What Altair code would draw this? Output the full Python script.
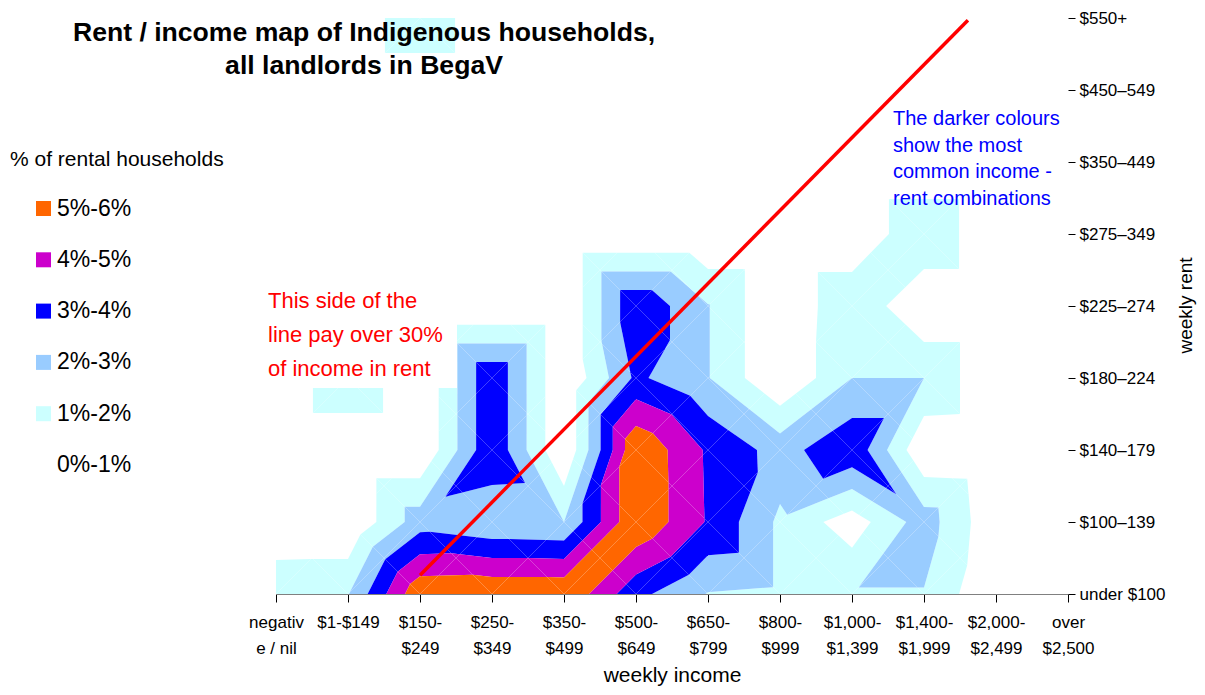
import json
import altair as alt
import pandas as pd

# ---------------- data ----------------
income_labels = ["negativ\ne / nil", "$1-$149", "$150-\n$249", "$250-\n$349", "$350-\n$499",
                 "$500-\n$649", "$650-\n$799", "$800-\n$999", "$1,000-\n$1,399",
                 "$1,400-\n$1,999", "$2,000-\n$2,499", "over\n$2,500"]
rent_labels = ["under $100", "$100–139", "$140–179", "$180–224", "$225–274",
               "$275–349", "$350–449", "$450–549", "$550+"]

# % of rental households for each income band, from "under $100" rent up to "$550+"
pct_negative_nil = [1.9, 0, 0, 0, 0, 0, 0, 0, 0]
pct_1_149 = [1.95, 0, 0, 1.95, 0, 0, 0, 0, 0]
pct_150_249 = [5.8, 2.54, 0, 0, 0, 0, 0, 0, 1.95]
pct_250_349 = [5.9, 2.1, 3.85, 3.85, 0, 0, 0, 0, 0]
pct_350_499 = [5.9, 2.0, 0, 0, 0, 0, 0, 0, 0]
pct_500_649 = [3.3, 5.9, 5.9, 3.2, 3.85, 0, 0, 0, 0]
pct_650_799 = [1.95, 3.9, 3.85, 2.05, 2.05, 0, 0, 0, 0]
pct_800_999 = [1.8, 1.8, 2.6, 0, 0, 0, 0, 0, 0]
pct_1000_1399 = [1.95, 0.47, 3.8, 2.0, 1.9, 0, 0, 0, 0]
pct_1400_1999 = [1.95, 2.5, 0.1, 2.0, 0, 1.95, 0, 0, 0]
pct_2000_2499 = [0, 0.2, 0, 0, 0, 0, 0, 0, 0]
pct_over_2500 = [0, 0, 0, 0, 0, 0, 0, 0, 0]

band_edges = [0, 1, 2, 3, 4, 5, 6]
band_labels = ["0%-1%", "1%-2%", "2%-3%", "3%-4%", "4%-5%", "5%-6%"]
band_colors = ["#FFFFFF", "#CCFFFF", "#99CCFF", "#0000FF", "#CC00CC", "#FF6600"]

# 30%-of-income reference line (income index, rent index)
line_x = [2.0, 9.61]
line_y = [0.26, 7.97]

grid = [pct_negative_nil, pct_1_149, pct_150_249, pct_250_349, pct_350_499, pct_500_649,
        pct_650_799, pct_800_999, pct_1000_1399, pct_1400_1999, pct_2000_2499, pct_over_2500]


# ---------------- filled contour bands (cell split on the diagonal with the larger sum) ----------------
def clip(poly, level, keep_above):
    out = []
    n = len(poly)
    for k in range(n):
        p, q = poly[k], poly[(k + 1) % n]
        pin = p[2] >= level if keep_above else p[2] <= level
        qin = q[2] >= level if keep_above else q[2] <= level
        if pin:
            out.append(p)
        if pin != qin:
            t = (level - p[2]) / (q[2] - p[2])
            out.append((p[0] + t * (q[0] - p[0]), p[1] + t * (q[1] - p[1]), level))
    return out


def area(poly):
    s = 0.0
    for k in range(len(poly)):
        x1, y1, _ = poly[k]
        x2, y2, _ = poly[(k + 1) % len(poly)]
        s += x1 * y2 - x2 * y1
    return abs(s) / 2


rows = []
pid = 0
nx, ny = len(grid), len(grid[0])
for i in range(nx - 1):
    for j in range(ny - 1):
        bl = (i, j, grid[i][j])
        br = (i + 1, j, grid[i + 1][j])
        tl = (i, j + 1, grid[i][j + 1])
        tr = (i + 1, j + 1, grid[i + 1][j + 1])
        c = (i + 0.5, j + 0.5, max(bl[2] + tr[2], tl[2] + br[2]) / 2)
        for tri in ((bl, br, c), (br, tr, c), (tr, tl, c), (tl, bl, c)):
            for b in range(1, len(band_labels)):
                poly = clip(clip(list(tri), band_edges[b], True), band_edges[b + 1], False)
                if len(poly) >= 3 and area(poly) > 1e-7:
                    for k, (x, y, _) in enumerate(poly):
                        rows.append({"x": x, "y": y, "k": k, "pid": pid, "band": band_labels[b]})
                    pid += 1
poly_df = pd.DataFrame(rows)

FONT = "Liberation Sans"

x_enc = alt.X("x:Q",
              scale=alt.Scale(domain=[0, len(income_labels) - 1], nice=False, zero=False),
              axis=alt.Axis(values=list(range(len(income_labels))),
                            labelExpr=json.dumps([l.split("\n") for l in income_labels], ensure_ascii=False) + "[datum.value]",
                            title="weekly income", titleFontSize=21, titleFontWeight="normal",
                            titleColor="black", titleFont=FONT, titleY=81, titleBaseline="middle",
                            labelFont=FONT, labelFontSize=17, labelColor="black", labelAngle=0,
                            labelPadding=12, labelLineHeight=26, labelOverlap=False,
                            labelFlush=False, labelAlign="center",
                            tickSize=8, tickColor="black", domainColor="#808080", grid=False))
y_enc = alt.Y("y:Q",
              scale=alt.Scale(domain=[0, len(rent_labels) - 1], nice=False, zero=False),
              axis=alt.Axis(orient="right", values=list(range(len(rent_labels))),
                            labelExpr=json.dumps(rent_labels, ensure_ascii=False) + "[datum.value]",
                            title="weekly rent", titleFontSize=19, titleFontWeight="normal",
                            titleColor="black", titleFont=FONT, titleAngle=270, titleX=117, titleY=287,
                            titleBaseline="middle", titleAlign="center",
                            labelFont=FONT, labelFontSize=17, labelColor="black", labelPadding=4,
                            labelOverlap=False, labelFlush=False,
                            tickSize=7, tickColor="black", domain=False, grid=False))

legend_domain = band_labels[::-1]
legend_range = band_colors[::-1]

bands = alt.Chart(poly_df).mark_line(filled=True, opacity=1, strokeWidth=0).encode(
    x=x_enc, y=y_enc,
    color=alt.Color("band:N", scale=alt.Scale(domain=legend_domain, range=legend_range),
                    legend=alt.Legend(title=None, orient="none", legendX=-244, legendY=179,
                                      symbolType="square", symbolSize=225, symbolStrokeWidth=0,
                                      symbolOpacity=1,
                                      labelFont=FONT, labelFontSize=23, labelColor="black",
                                      labelOffset=2, rowPadding=27.3, labelLimit=200)),
    detail="pid:N",
    order="k:Q",
)

ref_line = alt.Chart(pd.DataFrame({"x": line_x, "y": line_y})).mark_line(
    color="#FF0000", strokeWidth=3.5).encode(x=x_enc, y=y_enc)

one = pd.DataFrame({"a": [0]})

note_box = alt.Chart(one).mark_rect(color="white", opacity=1).encode(
    x=alt.value(-14), x2=alt.value(181), y=alt.value(262), y2=alt.value(370))


def text_layer(txt, x, y, size, color, weight="normal", align="left", line_height=None):
    kw = dict(font=FONT, fontSize=size, color=color, fontWeight=weight, align=align,
              baseline="middle", lineBreak="\n")
    if line_height:
        kw["lineHeight"] = line_height
    return alt.Chart(pd.DataFrame({"t": [txt]})).mark_text(**kw).encode(
        x=alt.value(x), y=alt.value(y), text="t:N")


title_txt = text_layer("Rent / income map of Indigenous households,\nall landlords in BegaV",
                       88, 15, 26.6, "black", weight="bold", align="center", line_height=33)
red_note = text_layer("This side of the\nline pay over 30%\nof income in rent",
                      -8, 283, 22, "#FF0000", line_height=34)
blue_note = text_layer("The darker colours\nshow the most\ncommon income -\nrent combinations",
                       617, 101, 20, "#0000FF", line_height=26.7)
legend_title = text_layer("% of rental households", -266, 142, 21, "black")

chart = alt.layer(bands, note_box, ref_line, red_note, blue_note, title_txt, legend_title).properties(
    width=792, height=576,
    padding={"left": 268, "top": 10, "right": 129, "bottom": 93},
    autosize=alt.AutoSizeParams(type="none"),
).configure(font=FONT).configure_view(stroke=None, strokeWidth=0)

chart.save("out.html", embed_options={"renderer": "svg", "actions": False})
